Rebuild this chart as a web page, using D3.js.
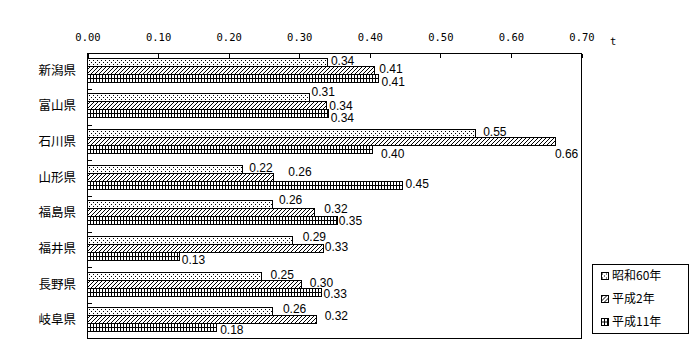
<html>
  <head>
    <meta charset="utf-8">
    <style>
      body { margin: 0; background: #fff; }
      .tick text { font-family: "DejaVu Sans Mono", monospace; font-size: 10.5px; fill: #000; }
      .cat text { font-family: "Noto Sans CJK JP", sans-serif; font-size: 12.5px; fill: #000; }
      .val { font-family: "Liberation Sans", sans-serif; font-size: 12px; fill: #000; }
      .leg { font-family: "Noto Sans CJK JP", sans-serif; font-size: 12px; fill: #000; }
    </style>
  </head>
<body>
  <svg width="700" height="360"></svg>
  <script src="https://cdn.jsdelivr.net/npm/d3@7"></script>
  <script>
    // prefectures, top to bottom
    var prefs = ["新潟県", "富山県", "石川県", "山形県", "福島県", "福井県", "長野県", "岐阜県"];
    var seriesNames = ["昭和60年", "平成2年", "平成11年"];
    var s60 = [0.340, 0.314, 0.550, 0.220, 0.262, 0.290, 0.246, 0.262];
    var h2  = [0.407, 0.339, 0.663, 0.264, 0.322, 0.334, 0.303, 0.324];
    var h11 = [0.413, 0.341, 0.404, 0.447, 0.354, 0.130, 0.331, 0.183];
    var xTicks = [0, 0.1, 0.2, 0.3, 0.4, 0.5, 0.6, 0.7];
    var unit = "t";
    // hand placement of the value labels, [dx, dy] per prefecture and series
    var labelShift = [
      [[1, -1.5], [2, -1], [0, 4]],
      [[0, -5], [0, 0.5], [0, 5]],
      [[5, -1.5], [-3, 13], [6, 5]],
      [[4, -1], [12, -5.5], [0, -1.5]],
      [[4, -4], [7, -3.5], [-1, 1]],
      [[8, -3], [-1, -1], [0, 4]],
      [[7, -1], [6, -1.5], [0, 1.5]],
      [[8, -2.5], [6, -3.5], [1, 3]]
    ];

    var svg = d3.select("svg");
    var margin = {top: 53, right: 119, bottom: 22, left: 87};
    var width = +svg.attr("width") - margin.left - margin.right;
    var height = +svg.attr("height") - margin.top - margin.bottom;

    // fill patterns
    var defs = svg.append("defs");
    var pDot = defs.append("pattern").attr("id", "pDot").attr("patternUnits", "userSpaceOnUse")
      .attr("width", 4).attr("height", 4);
    pDot.append("rect").attr("width", 4).attr("height", 4).attr("fill", "#fff");
    pDot.append("rect").attr("x", 0).attr("y", 0).attr("width", 1).attr("height", 1).attr("fill", "#000");
    pDot.append("rect").attr("x", 2).attr("y", 2).attr("width", 1).attr("height", 1).attr("fill", "#000");

    var pHatch = defs.append("pattern").attr("id", "pHatch").attr("patternUnits", "userSpaceOnUse")
      .attr("width", 4).attr("height", 4);
    pHatch.append("rect").attr("width", 4).attr("height", 4).attr("fill", "#fff");
    [[3, 0], [2, 1], [1, 2], [0, 3]].forEach(function(p) {
      pHatch.append("rect").attr("x", p[0]).attr("y", p[1]).attr("width", 1).attr("height", 1).attr("fill", "#000");
    });

    var pGrid = defs.append("pattern").attr("id", "pGrid").attr("patternUnits", "userSpaceOnUse")
      .attr("width", 3).attr("height", 4);
    pGrid.append("rect").attr("width", 3).attr("height", 4).attr("fill", "#fff");
    pGrid.append("rect").attr("width", 3).attr("height", 1).attr("fill", "#000");
    pGrid.append("rect").attr("width", 1).attr("height", 4).attr("fill", "#000");

    var fills = ["url(#pDot)", "url(#pHatch)", "url(#pGrid)"];

    var g = svg.append("g").attr("transform", "translate(" + margin.left + "," + margin.top + ")");

    var x = d3.scaleLinear().domain([0, 0.7]).range([0, width]);
    var y = d3.scaleBand().domain(prefs).range([0, height]).paddingInner(0.326).paddingOuter(0.163);
    var ySub = d3.scaleBand().domain(d3.range(3)).range([0, y.bandwidth()]);
    var yEdge = d3.scaleLinear().domain([0, prefs.length]).range([0, height]);

    var rows = prefs.map(function(p, i) {
      return [s60[i], h2[i], h11[i]].map(function(v, k) { return {pref: p, i: i, k: k, v: v}; });
    });

    // bars
    var grp = g.selectAll(".grp").data(rows).enter().append("g")
      .attr("transform", function(d, i) { return "translate(0," + Math.round(y(prefs[i]) - 1) + ")"; });

    grp.selectAll("rect").data(function(d) { return d; }).enter().append("rect")
      .attr("x", 0.5)
      .attr("y", function(d) { return Math.round(ySub(d.k)) + 0.5; })
      .attr("width", function(d) { return Math.round(x(d.v)); })
      .attr("height", Math.round(ySub.bandwidth()))
      .attr("fill", function(d) { return fills[d.k]; })
      .attr("stroke", "#000")
      .attr("stroke-width", 1)
      .attr("shape-rendering", "crispEdges");

    grp.selectAll("text").data(function(d) { return d; }).enter().append("text")
      .attr("class", "val")
      .attr("x", function(d) { return x(d.v) + 3 + labelShift[d.i][d.k][0]; })
      .attr("y", function(d) { return ySub(d.k) + ySub.bandwidth() / 2 + labelShift[d.i][d.k][1]; })
      .attr("dy", "0.36em")
      .text(function(d) { return d.v.toFixed(2); });

    // frame
    g.append("rect")
      .attr("x", 0.5).attr("y", 0.5)
      .attr("width", width).attr("height", height)
      .attr("fill", "none").attr("stroke", "#000")
      .attr("shape-rendering", "crispEdges");

    // top value axis, ticks inside
    var ax = g.append("g")
      .attr("transform", "translate(0.5,0.5)")
      .call(d3.axisTop(x).tickValues(xTicks).tickSize(-4).tickPadding(13).tickFormat(d3.format(".2f")));
    ax.select(".domain").remove();
    ax.selectAll("line").attr("shape-rendering", "crispEdges");

    g.append("text")
      .attr("x", width + 29).attr("y", -8)
      .style("font-family", "'DejaVu Sans Mono', monospace").style("font-size", "10.5px")
      .text(unit);

    // category labels
    var ay = g.append("g").attr("class", "cat")
      .call(d3.axisLeft(y).tickSize(0).tickPadding(11));
    ay.select(".domain").remove();

    // category boundary ticks
    var ae = g.append("g")
      .attr("transform", "translate(0.5,0.5)")
      .call(d3.axisLeft(yEdge).tickValues(d3.range(1, prefs.length)).tickSize(-4).tickFormat(""));
    ae.select(".domain").remove();
    ae.selectAll("line").attr("shape-rendering", "crispEdges");

    // legend
    var leg = svg.append("g").attr("transform", "translate(592,264)");
    leg.append("rect").attr("x", 0.5).attr("y", 0.5).attr("width", 96).attr("height", 69)
      .attr("fill", "#fff").attr("stroke", "#000").attr("shape-rendering", "crispEdges");
    var li = leg.selectAll(".li").data(seriesNames).enter().append("g")
      .attr("transform", function(d, k) { return "translate(0," + (11.5 + k * 23) + ")"; });
    li.append("rect").attr("x", 9.5).attr("y", -3.5).attr("width", 7).attr("height", 7)
      .attr("fill", function(d, k) { return fills[k]; })
      .attr("stroke", "#000").attr("shape-rendering", "crispEdges");
    li.append("text").attr("class", "leg").attr("x", 20).attr("dy", "0.38em")
      .text(function(d) { return d; });
  </script>
  </body>
</html>
